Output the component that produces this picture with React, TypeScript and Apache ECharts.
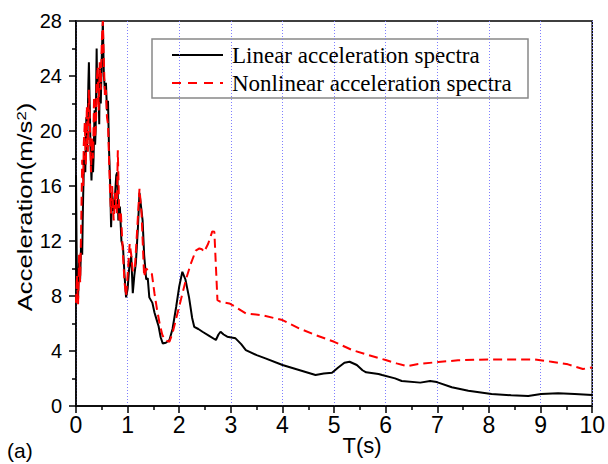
import React, { useEffect, useRef } from "react";
import * as echarts from "echarts";

const linearT = [
  0.0, 0.01, 0.02, 0.04, 0.06, 0.08, 0.1, 0.12, 0.13, 0.14, 0.16, 0.18, 0.2, 0.21, 0.22, 0.24, 0.25, 0.27, 0.28, 0.29,
  0.3, 0.32, 0.33, 0.34, 0.36, 0.37, 0.38, 0.4, 0.41, 0.42, 0.44, 0.45, 0.46, 0.48, 0.5, 0.52, 0.54, 0.56, 0.58, 0.6,
  0.62, 0.64, 0.66, 0.68, 0.7, 0.72, 0.75, 0.78, 0.8, 0.82, 0.85, 0.88, 0.91, 0.94, 0.97, 1.0, 1.03, 1.07, 1.1, 1.13,
  1.16, 1.2, 1.23, 1.26, 1.29, 1.32, 1.36, 1.39, 1.42, 1.45, 1.48, 1.52, 1.56, 1.6, 1.64, 1.68, 1.74, 1.81, 1.87,
  1.94, 2.0, 2.06, 2.12, 2.19, 2.25, 2.29, 2.37, 2.45, 2.58, 2.71, 2.76, 2.8, 2.86, 2.93, 3.09, 3.2, 3.29, 3.5, 3.67,
  4.0, 4.32, 4.64, 4.8, 4.96, 5.08, 5.2, 5.3, 5.44, 5.55, 5.62, 5.86, 5.93, 6.18, 6.31, 6.67, 6.86, 6.99, 7.28, 7.6,
  8.05, 8.43, 8.76, 9.01, 9.34, 9.66, 10.0,
];
const linearA = [
  16.8, 12.0, 9.0, 7.8, 10.5, 9.2, 12.0, 11.0, 13.5, 15.5, 18.5, 17.0, 21.0, 18.5, 19.5, 23.5, 25.0, 21.0, 19.0, 17.5,
  16.4, 19.0, 17.0, 18.0, 21.5, 19.0, 20.0, 26.0, 23.0, 24.0, 22.5, 20.5, 24.5, 22.0, 25.5, 27.9, 24.0, 23.0, 23.5, 21.5,
  22.2, 18.6, 16.4, 13.0, 15.5, 14.2, 15.0, 16.8, 17.0, 13.5, 14.5, 12.0, 11.6, 9.5, 7.9, 8.5, 10.0, 10.9, 8.2, 9.5,
  10.4, 13.0, 15.5, 14.5, 13.5, 11.0, 9.2, 9.3, 7.9, 7.7, 7.5, 6.8, 6.3, 5.8, 5.0, 4.55, 4.6, 4.8, 5.6,
  7.2, 8.7, 9.76, 9.2, 7.9, 6.4, 5.76, 5.6, 5.4, 5.1, 4.8, 5.2, 5.4, 5.2, 5.04, 4.92, 4.5, 4.07, 3.7, 3.46,
  2.98, 2.62, 2.25, 2.37, 2.42, 2.8, 3.15, 3.22, 2.98, 2.6, 2.45, 2.33, 2.25, 2.01, 1.82, 1.7, 1.82, 1.74, 1.36, 1.11,
  0.87, 0.78, 0.73, 0.87, 0.92, 0.87, 0.8,
];

const nonlinearT = [
  0.0, 0.02, 0.04, 0.06, 0.08, 0.1, 0.12, 0.14, 0.15, 0.17, 0.19, 0.21, 0.23, 0.25, 0.27, 0.29, 0.31, 0.33, 0.35, 0.37,
  0.39, 0.4, 0.42, 0.44, 0.46, 0.48, 0.5, 0.52, 0.54, 0.56, 0.58, 0.6, 0.62, 0.64, 0.66, 0.68, 0.7, 0.73, 0.76, 0.79,
  0.81, 0.84, 0.87, 0.91, 0.94, 0.97, 1.0, 1.04, 1.07, 1.1, 1.14, 1.18, 1.23, 1.27, 1.32, 1.36, 1.42, 1.47, 1.52,
  1.57, 1.62, 1.67, 1.72, 1.81, 1.87, 1.95, 2.05, 2.13, 2.22, 2.32, 2.39, 2.44, 2.48, 2.56, 2.64, 2.68, 2.74, 2.8,
  2.97, 3.03, 3.29, 3.61, 4.0, 4.32, 4.64, 5.0, 5.35, 5.67, 6.0, 6.21, 6.41, 6.63, 7.02, 7.4, 7.98, 8.43, 8.89,
  9.21, 9.53, 9.82, 9.95, 10.0,
];
const nonlinearA = [
  7.5, 9.5, 7.4, 11.0, 9.0, 13.0, 17.9, 16.0, 19.0, 20.6, 17.5, 21.8, 18.5, 23.0, 20.5, 17.0, 19.5, 18.0, 22.5, 19.5,
  21.0, 23.5, 24.7, 21.5, 25.0, 23.0, 26.5, 28.0, 25.0, 22.5, 23.0, 21.0, 20.5, 18.0, 15.5, 14.0, 16.0, 13.5, 15.5, 14.0,
  18.6, 13.5, 14.0, 11.0, 9.0, 8.0, 9.5, 11.8, 11.0, 9.8, 10.0, 12.5, 15.8, 14.0, 9.4, 10.0, 9.76, 9.6, 8.2,
  7.0, 6.0, 5.2, 4.8, 4.67, 5.3, 6.5, 8.0, 9.2, 10.3, 11.3, 11.46, 11.4, 11.2, 11.8, 12.7, 12.67, 7.7, 7.58,
  7.46, 7.34, 6.74, 6.6, 6.25, 5.65, 5.16, 4.67, 4.07, 3.7, 3.34, 3.1, 2.9, 3.05, 3.2, 3.32, 3.39, 3.39, 3.39,
  3.22, 3.03, 2.69, 2.78, 2.8,
];

const seriesNames = ["Linear acceleration spectra", "Nonlinear acceleration spectra"];

export default function App() {
  const ref = useRef<HTMLDivElement>(null);
  useEffect(() => {
    document.body.style.margin = "0";
    const chart = echarts.init(ref.current!, null, { renderer: "svg" });
    const sans = "'Liberation Sans', Arial, sans-serif";
    const serif = "'Liberation Serif', 'Times New Roman', serif";
    chart.setOption({
      animation: false,
      backgroundColor: "#fff",
      grid: {
        left: 76,
        right: 14,
        top: 21,
        bottom: 58,
        show: true,
        borderColor: "#000",
        borderWidth: 1.5,
        backgroundColor: "transparent",
      },
      xAxis: {
        type: "value",
        min: 0,
        max: 10,
        interval: 1,
        axisLine: { lineStyle: { color: "#000", width: 1.5 } },
        axisTick: { show: true, inside: false, length: 7, lineStyle: { color: "#000", width: 1.5 } },
        minorTick: { show: true, splitNumber: 2, length: 4, lineStyle: { color: "#000", width: 1.5 } },
        axisLabel: { fontFamily: sans, fontSize: 23, color: "#000", margin: 7 },
        splitLine: { show: true, lineStyle: { color: "#7f7fff", type: [1, 2], width: 1 } },
      },
      yAxis: {
        type: "value",
        min: 0,
        max: 28,
        interval: 4,
        axisLine: { show: true, lineStyle: { color: "#000", width: 1.5 } },
        axisTick: { show: true, inside: false, length: 7, lineStyle: { color: "#000", width: 1.5 } },
        minorTick: { show: true, splitNumber: 2, length: 4, lineStyle: { color: "#000", width: 1.5 } },
        axisLabel: { fontFamily: sans, fontSize: 20, color: "#000", margin: 14 },
        splitLine: { show: false },
      },
      graphic: [
        {
          type: "text",
          x: 25,
          y: 207,
          rotation: Math.PI / 2,
          scaleX: 1.28,
          style: {
            text: "Acceleration(m/s{sup|2})",
            fontFamily: sans,
            fontSize: 20,
            fill: "#000",
            align: "center",
            verticalAlign: "middle",
            rich: {
              sup: { fontFamily: sans, fontSize: 13, verticalAlign: "top", fill: "#000" },
            },
          },
        },
        {
          type: "text",
          x: 362,
          y: 445,
          style: {
            text: "T(s)",
            fontFamily: sans,
            fontSize: 22,
            fill: "#000",
            align: "center",
            verticalAlign: "middle",
          },
        },
        {
          type: "text",
          x: 7,
          y: 450,
          style: {
            text: "(a)",
            fontFamily: sans,
            fontSize: 21,
            fill: "#000",
            align: "left",
            verticalAlign: "middle",
          },
        },
        {
          type: "group",
          z: 100,
          children: [
            {
              type: "rect",
              shape: { x: 152, y: 39, width: 376, height: 59 },
              style: { fill: "#fff", stroke: "#888", lineWidth: 1.5 },
            },
            {
              type: "line",
              shape: { x1: 172, y1: 55, x2: 223, y2: 55 },
              style: { stroke: "#000", lineWidth: 2 },
            },
            {
              type: "line",
              shape: { x1: 172, y1: 83, x2: 223, y2: 83 },
              style: { stroke: "#ff0000", lineWidth: 2, lineDash: [9, 7] },
            },
            {
              type: "text",
              x: 232,
              y: 55,
              style: { text: seriesNames[0], fontFamily: serif, fontSize: 23, fill: "#000", verticalAlign: "middle" },
            },
            {
              type: "text",
              x: 232,
              y: 83,
              style: { text: seriesNames[1], fontFamily: serif, fontSize: 23, fill: "#000", verticalAlign: "middle" },
            },
          ],
        },
      ],
      series: [
        {
          name: seriesNames[0],
          type: "line",
          symbol: "none",
          showSymbol: false,
          data: linearT.map((t, i) => [t, linearA[i]]),
          lineStyle: { color: "#000", width: 2 },
          itemStyle: { color: "#000" },
        },
        {
          name: seriesNames[1],
          type: "line",
          symbol: "none",
          showSymbol: false,
          data: nonlinearT.map((t, i) => [t, nonlinearA[i]]),
          lineStyle: { color: "#ff0000", width: 2, type: [9, 5] },
          itemStyle: { color: "#ff0000" },
        },
      ],
    });
    return () => chart.dispose();
  }, []);
  return <div ref={ref} style={{ width: 608, height: 464 }} />;
}
